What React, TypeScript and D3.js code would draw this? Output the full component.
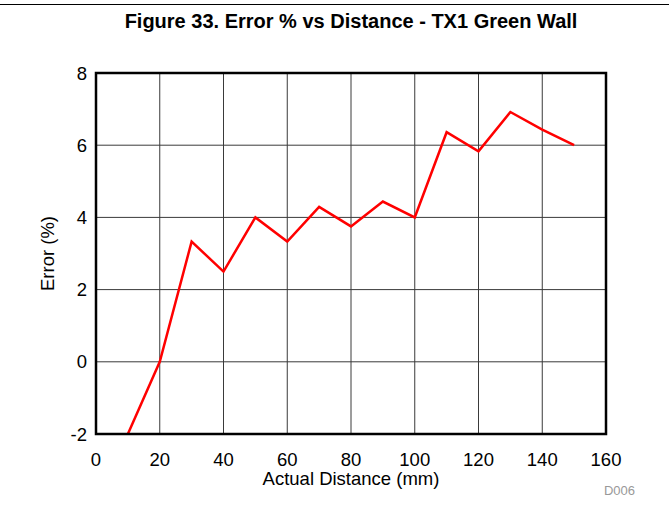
import React from "react";
import * as d3 from "d3";

const distances = [10, 20, 30, 40, 50, 60, 70, 80, 90, 100, 110, 120, 130, 140, 150];
const errorPct = [-2, 0, 3.33, 2.5, 4, 3.33, 4.29, 3.75, 4.44, 4, 6.36, 5.83, 6.92, 6.43, 6];
const xTicks = [0, 20, 40, 60, 80, 100, 120, 140, 160];
const yTicks = [-2, 0, 2, 4, 6, 8];

const W = 669;
const H = 525;
const plot = { left: 96, right: 606, top: 73, bottom: 434 };
const font = "'Liberation Sans', Arial, sans-serif";

export default function App() {
  const x = d3.scaleLinear().domain([0, 160]).range([plot.left, plot.right]);
  const y = d3.scaleLinear().domain([-2, 8]).range([plot.bottom, plot.top]);
  const line = d3
    .line<number>()
    .x((_, i) => x(distances[i]))
    .y((d) => y(d));

  return (
    <svg
      width={W}
      height={H}
      style={{ position: "absolute", left: 0, top: 0, background: "#fff" }}
      fontFamily={font}
    >
      <line x1={0} x2={W} y1={4.5} y2={4.5} stroke="#000" strokeWidth={1} />
      <text x={351} y={28} textAnchor="middle" fontSize={20} fontWeight="bold">
        Figure 33. Error % vs Distance - TX1 Green Wall
      </text>

      {xTicks.slice(1, -1).map((t) => (
        <line key={"gx" + t} x1={x(t)} x2={x(t)} y1={plot.top} y2={plot.bottom} stroke="#3a3a3a" strokeWidth={1} />
      ))}
      {yTicks.slice(1, -1).map((t) => (
        <line key={"gy" + t} x1={plot.left} x2={plot.right} y1={y(t)} y2={y(t)} stroke="#3a3a3a" strokeWidth={1} />
      ))}

      <path d={line(errorPct) ?? ""} fill="none" stroke="#ff0000" strokeWidth={2.5} strokeLinejoin="miter" />

      <rect
        x={plot.left}
        y={plot.top}
        width={plot.right - plot.left}
        height={plot.bottom - plot.top}
        fill="none"
        stroke="#000"
        strokeWidth={2.5}
      />

      {yTicks.map((t) => (
        <text key={"ty" + t} x={87} y={y(t) + 6.5} textAnchor="end" fontSize={18.5}>
          {t}
        </text>
      ))}
      {xTicks.map((t) => (
        <text key={"tx" + t} x={x(t)} y={466} textAnchor="middle" fontSize={18.5}>
          {t}
        </text>
      ))}

      <text x={351} y={485} textAnchor="middle" fontSize={18.5}>
        Actual Distance (mm)
      </text>
      <text
        transform={`translate(54, ${(plot.top + plot.bottom) / 2}) rotate(-90)`}
        textAnchor="middle"
        fontSize={18.5}
      >
        Error (%)
      </text>
      <text x={635} y={495} textAnchor="end" fontSize={13} fill="#999">
        D006
      </text>
    </svg>
  );
}
